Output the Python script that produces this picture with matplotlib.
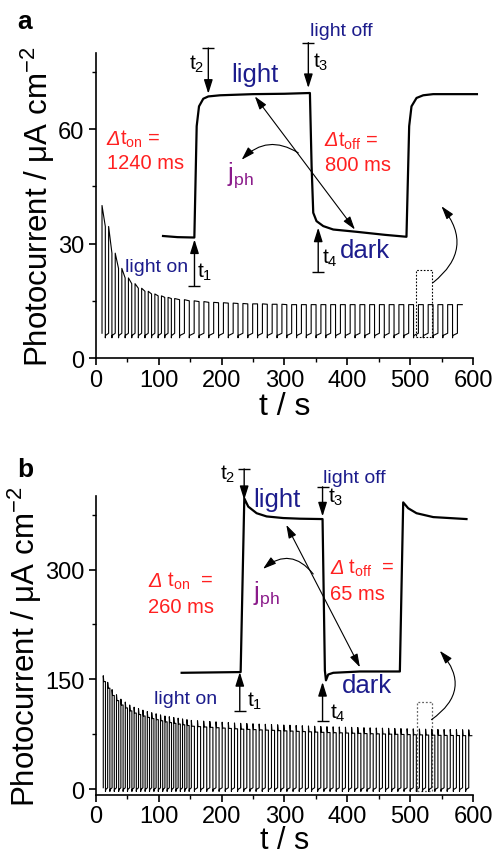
import numpy as np
import matplotlib
matplotlib.use("Agg")
import matplotlib.pyplot as plt
from matplotlib.patches import Rectangle

plt.rcParams['font.family'] = ['Liberation Sans', 'DejaVu Sans']
plt.rcParams['mathtext.fontset'] = 'custom'
plt.rcParams['mathtext.rm'] = 'Liberation Sans'
plt.rcParams['mathtext.it'] = 'Liberation Sans:italic'
plt.rcParams['mathtext.bf'] = 'Liberation Sans:bold'

# ---------------- data ----------------
# panel a: light/dark cycling (time of first pulse, cycle periods, photocurrent peaks)
start_a = 10.0
periods_a = [10.5] * 11 + [15.5] * 30
peaks_a = [40, 34.5, 27.5, 23.5, 21, 19.5, 18.3, 17.5, 16.8, 16.3, 15.9,
           15.6, 15.3, 15.0, 14.8, 14.6, 14.5, 14.4, 14.3, 14.2, 14.2, 14.1, 14.1] + [14.0] * 18
dark_a = (5.3, 6.5)

# panel b
start_b = 12.0
periods_b = [7.0] * 20 + [9.8] * 46
peaks_b = [155, 146, 136, 129, 123, 119, 115, 112, 110, 108, 106, 104.5, 103, 101.5, 100,
           99, 98, 97, 96, 95,
           94, 93.5, 93, 92.5, 92, 91.5, 91, 90.5, 90, 89.7, 89.4, 89, 88.7, 88.4, 88, 87.7,
           87.4, 87, 86.7, 86.4, 86, 85.7, 85.4, 85.2, 85, 84.7, 84.5, 84.3, 84, 83.8, 83.6,
           83.4, 83.2, 83, 82.8, 82.6, 82.4, 82.2, 82, 81.8, 81.6, 81.5, 81.4, 81.3, 81.2, 81.1]
spike_drop_b = 8.0
dark_b = (-3.0, 2.0)

# single-cycle close-ups (plotted on the main time/current scales)
inset_a_t = [107, 130, 156.8, 160.5, 164.2, 171, 179, 197.6, 250, 300, 340.5,
             343.2, 345.8, 351, 361.7, 377.6, 414.6, 460, 494, 498.3, 502, 510, 520.6, 536.5, 606]
inset_a_y = [32.0, 31.7, 31.6, 60.8, 66.0, 68.0, 68.6, 68.9, 69.2, 69.3, 69.5,
             50.3, 38.1, 35.9, 34.6, 33.7, 33.1, 32.3, 31.8, 60.8, 66.0, 68.2, 68.9, 69.2, 69.2]

inset_b_t = [136.6, 230.4, 236.2, 242.5, 255.8, 271.7, 298, 324.6, 360.6, 364.3, 366,
             369.6, 377.6, 420, 483.5, 488.8, 496.7, 510, 536.5, 589.4]
inset_b_y = [159, 160, 397.2, 386, 377, 372.6, 370.4, 369.5, 369, 162, 148.7,
             156.7, 159, 160.8, 160.8, 391.8, 383.8, 377, 371.7, 369]

xticks = [0, 100, 200, 300, 400, 500, 600]
yticks_a = [0, 30, 60]
yticks_b = [0, 150, 300]

NAVY = '#1c1c8c'
RED = '#ff2020'
PURPLE = '#8a1a8a'


def build_trace(t0, periods, peaks, dark, mode, drop=0.0):
    t, y = [], []
    tc = t0
    n = len(periods)
    for i in range(n):
        p = periods[i]
        P = peaks[i]
        ton = tc + p * 0.5
        t += [tc, tc]
        y += [dark[1], P]
        if mode == 'a':
            end = peaks[i + 1] if i + 1 < n else P
            t.append(ton)
            y.append(end)
        else:
            t += [tc + 0.8, ton]
            y += [P - drop, P - drop]
        if i < n - 1:
            t += [ton, ton + 0.3, tc + p]
            y += [dark[0], dark[0] + 0.5 * (dark[1] - dark[0]), dark[1]]
        tc += p
    return np.array(t), np.array(y)


def tbar_arrow(ax, x, y_tail, y_head):
    ax.annotate('', xy=(x, y_head), xytext=(x, y_tail),
                arrowprops=dict(arrowstyle='-|>,head_length=0.7,head_width=0.22',
                                color='k', lw=1.0, shrinkA=0, shrinkB=0,
                                mutation_scale=12),
                annotation_clip=False)
    ax.plot([x], [y_tail], marker='_', ms=8, mew=1.0, color='k', clip_on=False)


def style_axes(ax, ylim, yticks, yminor, xpad, tpad, xsize):
    ax.set_xlim(0, 600)
    ax.set_ylim(*ylim)
    ax.set_xticks(xticks)
    ax.set_xticks([50, 150, 250, 350, 450, 550], minor=True)
    ax.set_yticks(yticks)
    ax.set_yticks(yminor, minor=True)
    for s in ['top', 'right']:
        ax.spines[s].set_visible(False)
    for s in ['left', 'bottom']:
        ax.spines[s].set_linewidth(1.2)
    ax.tick_params(which='major', direction='out', length=5, width=1.2, labelsize=17, pad=3)
    ax.tick_params(axis='x', which='major', pad=tpad)
    ax.tick_params(which='minor', direction='out', length=3, width=1.0)
    ax.set_xlabel('t / s', fontsize=xsize, labelpad=xpad)
    ax.set_ylabel('Photocurrent / μA cm$^{-2}$', fontsize=22.5, labelpad=1)


fig = plt.figure(figsize=(4.97, 8.62), dpi=100)
renderer = fig.canvas.get_renderer()
W, H = fig.get_size_inches() * fig.dpi


def delta_text(ax, x, y, rest, size, color):
    # italic Δ followed by the rest of the label on the same baseline
    t1 = ax.text(x, y, 'Δ', style='italic', fontsize=size, color=color,
                 ha='left', va='baseline', clip_on=False)
    bb = t1.get_window_extent(renderer)
    yd = ax.transData.transform((x, y))[1]
    fig.text(bb.x1 / W, yd / H, rest, fontsize=size, color=color, ha='left', va='baseline')


axa = fig.add_axes([0.1926, 0.5835, 0.7594, 0.3539])
axb = fig.add_axes([0.1926, 0.0765, 0.7594, 0.3465])

# ---------- panel a ----------
style_axes(axa, (0, 80), yticks_a, [15, 45, 75], 0, 3, 23)
ta, ya = build_trace(start_a, periods_a, peaks_a, dark_a, 'a')
axa.plot(ta, ya, color='k', lw=0.8)
axa.plot(inset_a_t, inset_a_y, color='k', lw=1.6, clip_on=False)

tbar_arrow(axa, 179, 81.3, 69.3)
tbar_arrow(axa, 338, 82.7, 70.8)
tbar_arrow(axa, 157, 18.9, 31.1)
tbar_arrow(axa, 353.7, 22.6, 34.2)
axa.annotate('', xy=(253, 68.6), xytext=(412, 33.7),
             arrowprops=dict(arrowstyle='<|-|>,head_length=0.8,head_width=0.25', color='k',
                             lw=0.8, shrinkA=0, shrinkB=0, mutation_scale=10))
axa.annotate('', xy=(232, 52), xytext=(322, 53.8),
             arrowprops=dict(arrowstyle='-|>,head_length=0.8,head_width=0.25', color='k',
                             lw=0.8, shrinkA=0, shrinkB=0, mutation_scale=10,
                             connectionstyle='arc3,rad=0.4'))
axa.annotate('', xy=(549.7, 39.8), xytext=(536.5, 19.8),
             arrowprops=dict(arrowstyle='-|>,head_length=0.8,head_width=0.25', color='k',
                             lw=0.8, shrinkA=0, shrinkB=0, mutation_scale=10,
                             connectionstyle='arc3,rad=0.5'))
axa.add_patch(Rectangle((508.4, 5.4), 25.4, 17.7, fill=False, ls=(0, (1.5, 1.5)),
                        lw=0.8, ec='k'))

kw = dict(clip_on=False, va='center')
axa.text(340.5, 86, 'light off', color=NAVY, fontsize=14, ha='left', **kw)
axa.text(345.8, 77.8, 't$_3$', color='k', fontsize=15, ha='left', **kw)
axa.text(172, 77.3, 't$_2$', color='k', fontsize=15, ha='right', **kw)
axa.text(253, 74.5, 'light', color=NAVY, fontsize=18.5, ha='center', **kw)
delta_text(axa, 17.5, 56.2, 't$_{\\mathrm{on}}$ =', 14.5, RED)
axa.text(17.5, 51.2, '1240 ms', color=RED, fontsize=14.5, ha='left', **kw)
delta_text(axa, 364.3, 55.8, 't$_{\\mathrm{off}}$ =', 14.5, RED)
axa.text(364.3, 50.7, '800 ms', color=RED, fontsize=14.5, ha='left', **kw)
axa.text(208, 48.1, 'j$_{\\mathrm{ph}}$', color=PURPLE, fontsize=18, ha='left', **kw)
axa.text(147, 24.1, 'light on', color=NAVY, fontsize=14, ha='right', **kw)
axa.text(160.5, 22.8, 't$_1$', color='k', fontsize=15, ha='left', **kw)
axa.text(359, 26.3, 't$_4$', color='k', fontsize=15, ha='left', **kw)
axa.text(388, 28.3, 'dark', color=NAVY, fontsize=18.5, ha='left', **kw)
fig.text(0.035, 0.975, 'a', fontsize=19, fontweight='bold', ha='left', va='center')

# ---------- panel b ----------
style_axes(axb, (-8, 400), yticks_b, [75, 225, 375], -1.5, 2.5, 22)
tb, yb = build_trace(start_b, periods_b, peaks_b, dark_b, 'b', drop=spike_drop_b)
axb.plot(tb, yb, color='k', lw=0.8)
axb.plot(inset_b_t, inset_b_y, color='k', lw=1.6, clip_on=False)

tbar_arrow(axb, 236, 437.5, 395)
tbar_arrow(axb, 360.6, 413, 372.6)
tbar_arrow(axb, 229, 107.5, 160)
tbar_arrow(axb, 360.6, 92.7, 146.4)
axb.annotate('', xy=(303, 361), xytext=(420, 166.6),
             arrowprops=dict(arrowstyle='<|-|>,head_length=0.8,head_width=0.25', color='k',
                             lw=0.8, shrinkA=0, shrinkB=0, mutation_scale=10))
axb.annotate('', xy=(266, 301), xytext=(345.8, 294),
             arrowprops=dict(arrowstyle='-|>,head_length=0.8,head_width=0.25', color='k',
                             lw=0.8, shrinkA=0, shrinkB=0, mutation_scale=10,
                             connectionstyle='arc3,rad=0.5'))
axb.annotate('', xy=(547, 189), xytext=(533.8, 95),
             arrowprops=dict(arrowstyle='-|>,head_length=0.8,head_width=0.25', color='k',
                             lw=0.8, shrinkA=0, shrinkB=0, mutation_scale=10,
                             connectionstyle='arc3,rad=0.55'))
axb.add_patch(Rectangle((510, -2.7), 23.8, 121.4, fill=False, ls=(0, (1.5, 1.5)),
                        lw=0.9, ec='#666666'))

axb.text(221.4, 430.8, 't$_2$', color='k', fontsize=15, ha='right', **kw)
axb.text(288.6, 397, 'light', color=NAVY, fontsize=18.5, ha='center', **kw)
axb.text(361.7, 426, 'light off', color=NAVY, fontsize=14, ha='left', **kw)
axb.text(369.6, 399.5, 't$_3$', color='k', fontsize=15, ha='left', **kw)
delta_text(axb, 83.7, 278, ' t$_{\\mathrm{on}}$  =', 14.5, RED)
axb.text(83.7, 249.4, '260 ms', color=RED, fontsize=14.5, ha='left', **kw)
delta_text(axb, 372.3, 296, ' t$_{\\mathrm{off}}$  =', 14.5, RED)
axb.text(372.3, 267.4, '65 ms', color=RED, fontsize=14.5, ha='left', **kw)
axb.text(250.5, 267.4, 'j$_{\\mathrm{ph}}$', color=PURPLE, fontsize=18, ha='left', **kw)
axb.text(92.7, 124, 'light on', color=NAVY, fontsize=14, ha='left', **kw)
axb.text(239.9, 121.8, 't$_1$', color='k', fontsize=15, ha='left', **kw)
axb.text(372.3, 104.8, 't$_4$', color='k', fontsize=15, ha='left', **kw)
axb.text(390.8, 142, 'dark', color=NAVY, fontsize=18.5, ha='left', **kw)
fig.text(0.035, 0.455, 'b', fontsize=19, fontweight='bold', ha='left', va='center')

fig.savefig('out.png', dpi=100)
